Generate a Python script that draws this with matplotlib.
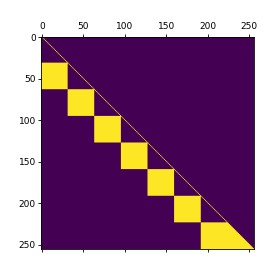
import numpy as np
import matplotlib
matplotlib.use("Agg")
import matplotlib.pyplot as plt

# mask layout
n_tokens = 256
block_size = 32
# (row block, col block) pairs that are fully on
row_blocks = [1, 2, 3, 4, 5, 6, 7]
col_blocks = [0, 1, 2, 3, 4, 5, 6]
# blocks where the lower triangle (incl. diagonal) is on
tri_blocks = [7]

mask = np.zeros((n_tokens, n_tokens))
for r, c in zip(row_blocks, col_blocks):
    mask[r*block_size:(r+1)*block_size, c*block_size:(c+1)*block_size] = 1
for b in tri_blocks:
    s = slice(b*block_size, (b+1)*block_size)
    mask[s, s] = np.tril(np.ones((block_size, block_size)))
np.fill_diagonal(mask, 1)

fig = plt.figure(figsize=(2.74, 2.74), dpi=100)
ax = fig.add_axes([0.15, 0.09, 0.777, 0.775])
ax.matshow(mask, cmap="viridis", interpolation="antialiased",
           interpolation_stage="rgba")
ax.set_xticks([0, 50, 100, 150, 200, 250])
ax.set_yticks([0, 50, 100, 150, 200, 250])
ax.tick_params(labelsize=6.5, length=2.5, width=0.6, pad=1.5)
for s in ax.spines.values():
    s.set_linewidth(0.6)

fig.savefig("out.png", dpi=100)
